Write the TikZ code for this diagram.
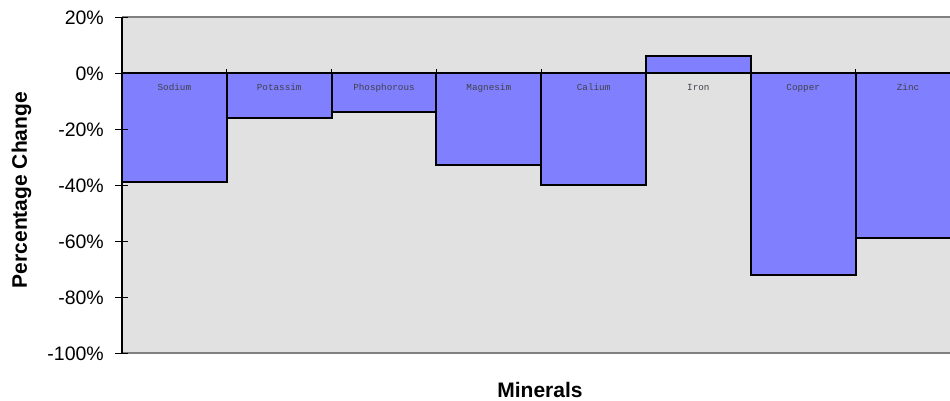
\documentclass[tikz,border=0pt]{standalone}
\usepackage{fontspec}
\setmainfont{Liberation Sans}
\newfontfamily\barfont{Liberation Mono}
\definecolor{barblue}{HTML}{8080FF}
\definecolor{plotbg}{HTML}{E1E1E1}
\definecolor{labgray}{HTML}{404048}
\begin{document}
\begin{tikzpicture}[x=1pt,y=-1pt,
  barbox/.style={fill=barblue,draw=black,line width=2pt},
  barlabel/.style={font=\barfont\fontsize{9.3}{10}\selectfont,text=labgray,inner sep=0pt,anchor=base},
  ticklabel/.style={font=\fontsize{19.5}{22}\selectfont,inner sep=0pt,anchor=base east},
  axistitle/.style={font=\bfseries\fontsize{21}{24}\selectfont,inner sep=0pt},
  frameline/.style={draw=gray,line width=1.5pt},
  axisline/.style={draw=black,line width=1.5pt}]
\useasboundingbox (0,0) rectangle (950,400);
% plot area
\fill[plotbg] (122,17) rectangle (960,353);
\draw[frameline] (122,17) -- (960,17);
\draw[frameline] (122,353) -- (960,353);
% bars
\foreach \i/\v in {0/-39,1/-16,2/-14,3/-33,4/-40,5/6,6/-72,7/-59}{
  \draw[barbox] ({122+\i*104.8},73) rectangle ({122+(\i+1)*104.8},{73-\v*2.8});
}
% zero line and category ticks
\coordinate (z0) at (122,73);
\coordinate (z1) at (960,73);
\draw[axisline,line width=2pt] (z0) -- (z1);
\foreach \i in {1,...,7}{
  \draw[black,line width=1pt] ({122+\i*104.8},73) -- ({122+\i*104.8},69);
}
% bar labels
\foreach \i/\name in {0/Sodium,1/Potassim,2/Phosphorous,3/Magnesim,4/Calium,5/Iron,6/Copper,7/Zinc}{
  \node[barlabel] (lab\i) at ({122+(\i+0.5)*104.8},90.5) {\name};
}
% value axis
\coordinate (a0) at (122,17);
\coordinate (a1) at (122,353);
\draw[axisline] (a0) -- (a1);
\foreach \p/\t in {20/20\%,0/0\%,-20/-20\%,-40/-40\%,-60/-60\%,-80/-80\%,-100/-100\%}{
  \draw[black,line width=1pt] (115,{73-\p*2.8}) -- (128,{73-\p*2.8});
  \node[ticklabel] (t\p) at (104,{73-\p*2.8+7}) {\t};
}
% titles
\node[axistitle,rotate=90] (ytitle) at (21.5,190) {Percentage Change};
\node[axistitle,anchor=base] (xtitle) at (540,397) {Minerals};
\end{tikzpicture}
\end{document}
